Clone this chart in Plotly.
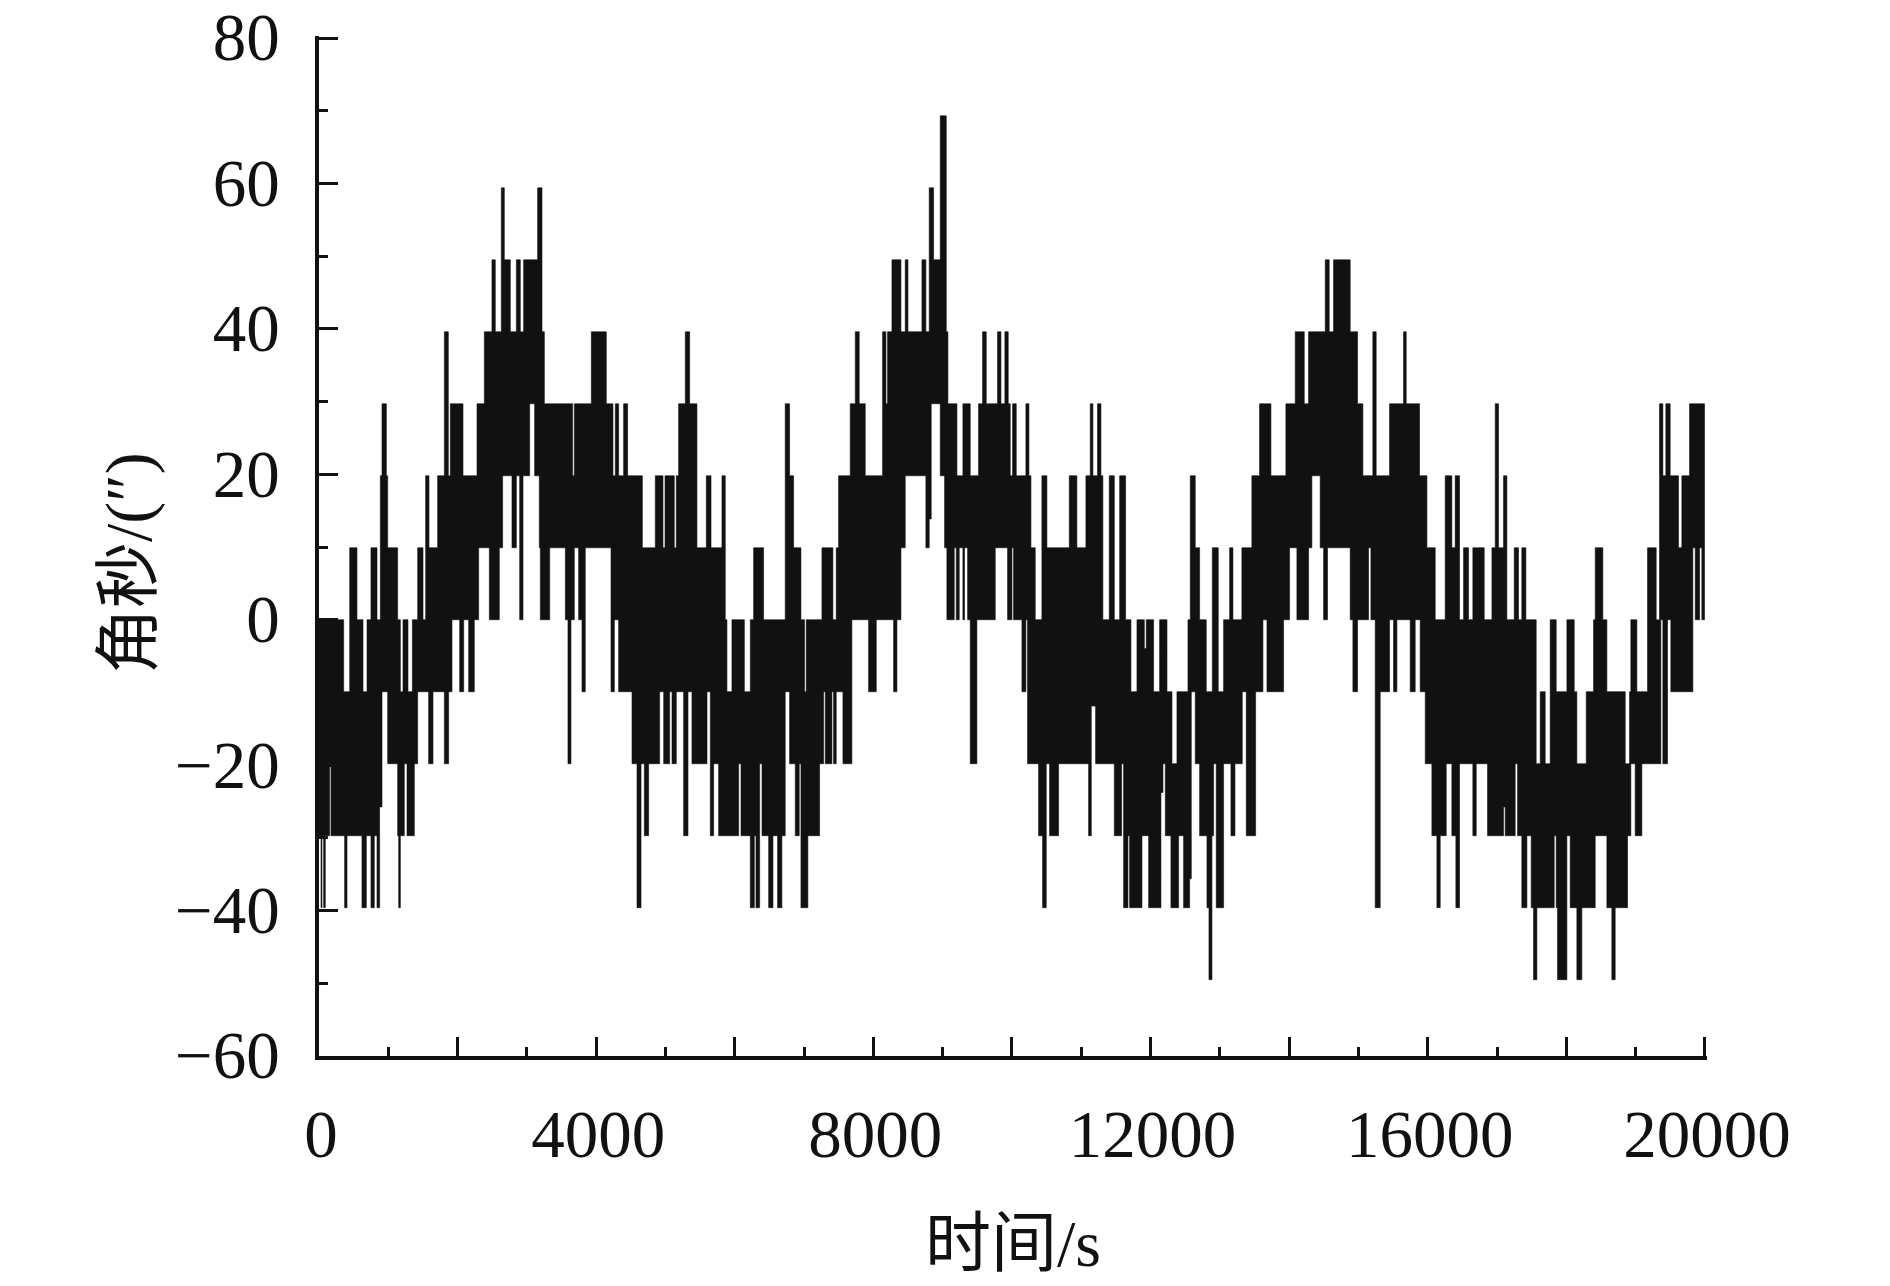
import plotly.graph_objects as go

# Angle readings are quantised in steps of about 9.9 arcsec; levels below are multiples of it.
ANGLE_STEP = 9.9

# Upper envelope of the dense trace: time (s) at which each run ends, and its level
upper_end = [356,443,548,635,693,750,837,885,909,972,991,1135,1174,1212,1284,1347,1424,1501,1539,1587,
 1712,1809,1866,1895,2078,2280,2386,2496,2544,2631,2674,2761,2848,2905,2953,3155,3218,3252,3660,3684,
 3930,4146,4242,4276,4324,4396,4454,4666,4853,4964,4993,5127,5156,5190,5286,5349,5454,5589,5657,5815,
 5863,5887,5959,6138,6224,6272,6416,6728,6791,6849,6955,7007,7031,7258,7416,7464,7498,7666,7739,7796,
 7883,8133,8181,8205,8268,8398,8460,8499,8701,8758,8806,8869,8965,9052,9076,9206,9292,9398,9518,9576,
 9629,9792,9841,9898,9946,9975,10009,10062,10201,10245,10274,10336,10432,10504,10827,10937,11067,11130,11168,11235,
 11284,11312,11404,11477,11554,11640,11717,11804,11910,11938,12044,12131,12237,12309,12381,12540,12573,12645,12708,12804,
 12891,12977,13054,13141,13189,13318,13462,13573,13737,13953,14088,14218,14280,14521,14578,14641,14881,14987,15064,15208,15256,15449,
 15651,15689,15882,15988,16108,16252,16348,16396,16459,16517,16589,16651,16815,16926,16974,17022,17094,17142,17248,17310,
 17358,17416,17565,17623,17695,17767,17854,18008,18114,18152,18287,18393,18417,18527,18585,18850,18912,18931,19018,19172,
 19297,19345,19393,19436,19499,19619,19667,19778,19994]
upper_level = [0,-1,1,0,-1,0,1,0,2,3,2,1,0,-1,0,-1,0,1,0,2,
 1,2,4,2,3,2,3,4,5,4,6,5,4,5,4,5,6,4,3,2,
 3,4,3,2,3,2,3,2,1,2,1,2,1,2,3,4,3,1,2,1,
 2,0,-1,0,-1,0,1,0,3,2,1,0,-1,0,1,0,1,2,3,4,
 3,2,4,3,4,5,4,5,4,5,4,6,5,7,4,3,2,3,2,3,
 4,3,4,3,4,3,2,3,2,3,2,1,0,2,1,2,1,2,3,2,
 3,2,0,2,0,2,0,-1,0,-0.4,0,-1,0,-1,-2,-1,0,2,1,0,
 -1,1,-1,0,1,0,1,2,3,2,3,4,3,4,5,4,5,4,3,2,4,2,
 3,4,3,2,1,0,2,1,2,0,1,0,1,0,1,3,1,2,0,1,
 0,1,0,-2,-1,-2,0,-1,0,-1,-2,-1,0,1,0,-1,-2,-1,0,-1,
 1,0,3,2,3,2,1,2,3]

# Lower envelope of the dense trace
lower_end = [29,43,67,91,154,173,370,404,620,683,750,798,837,875,909,991,1135,1150,1174,1231,
 1270,1376,1424,1582,1645,1809,1871,1919,2030,2088,2160,2241,2304,2458,2602,2650,2785,2848,2896,2944,
 2987,3040,3112,3179,3194,3329,3555,3593,3636,3684,3747,3795,3843,4214,4262,4324,4517,4589,4647,4695,
 4757,4916,4974,5060,5094,5156,5262,5325,5382,5599,5647,5695,5767,6056,6090,6224,6282,6306,6359,6393,
 6489,6551,6618,6680,6728,6791,6873,6930,6955,7055,7224,7282,7306,7402,7426,7464,7561,7690,7931,8042,
 8292,8340,8398,8460,8758,8806,8835,8965,9028,9061,9167,9196,9239,9292,9316,9360,9398,9494,9759,9937,
 10000,10023,10144,10201,10225,10384,10442,10495,10543,10673,11106,11145,11207,11477,11582,11611,11674,11698,11876,11972,
 12150,12179,12213,12294,12405,12477,12564,12588,12645,12708,12814,12843,12886,12910,12948,13054,13160,13218,13324,13381,
 13516,13622,13680,13920,14006,14112,14280,14328,14448,
 14497,14554,14881,14920,14987,15146,15180,15242,15314,15449,15507,15555,15747,15819,15891,15964,16060,16132,16180,16267,
 16348,16406,16459,16651,16700,16863,17094,17118,17262,17296,17358,17431,17493,17527,17575,17825,17854,17873,18008,18056,
 18152,18224,18417,18585,18657,18705,18883,18931,18994,19090,19364,19393,19460,19508,19826,19860,19923,19956,19994]
lower_level = [-3,-4,-3,-4,-3,-2,-3,-4,-3,-4,-3,-4,-3,-4,-2.6,-1,-2,-3,-4,-3,
 -2,-3,-2,-1,-2,-1,-2,-1,0,-1,0,-1,0,1,0,1,2,1,2,0,
 2,2,3,2,1,0,1,0,-2,0,1,0,-1,1,-1,0,-1,-2,-4,-2,
 -3,-2,-1,-2,-1,-2,-1,-3,-1,-2,-1,-3,-2,-3,-2,-3,-4,-3,-4,-2,
 -3,-4,-3,-4,-3,-1,-2,-3,-2,-4,-3,-2,-1,-2,-1,-2,-1,-2,0,-1,
 0,-1,0,1,2,1,1.4,3,2,1,0,1,0,1,0,1,0,-2,0,1,
 0,1,0,-1,0,-2,-3,-4,-2,-3,-2,-3,-1.2,-2,-3,-2,-4,-3,-4,-3,
 -4,-2.4,-2,-3,-4,-3,-4,-3.6,-1,-2,-3,-4,-5,-3,-2,-4,-2,-3,-2,-1,
 -3,-1,0,-1,0,1,0,1,2,
 1,0,1,0,-1,0,1,0,-4,-1,0,-1,0,-1,0,-1,-2,-3,-4,-3,
 -2,-3,-4,-2,-3,-2,-3,-2.6,-3,-2,-3,-4,-3,-4,-5,-4,-3,-4,-5,-3,
 -4,-5,-4,-3,-4,-5,-4,-3,-2,-3,-2,0,-2,0,-1,1,0,1,0]

x_major = [0,2000,4000,6000,8000,10000,12000,14000,16000,18000,20000]
x_tick_text = ["0","","4000","","8000","","12000","","16000","","20000"]
y_major = [-60,-40,-20,0,20,40,60,80]
y_tick_text = ["−60","−40","−20","0","20","40","60","80"]

INK = "#111111"
SERIF = "Liberation Serif, Noto Sans CJK SC, serif"


def steps(ends, levels):
    xs, ys, start = [], [], 0
    for end, level in zip(ends, levels):
        xs += [start, end]
        ys += [level * ANGLE_STEP, level * ANGLE_STEP]
        start = end
    return xs, ys


assert len(upper_end) == len(upper_level) and len(lower_end) == len(lower_level), (len(upper_end), len(upper_level), len(lower_end), len(lower_level))
ux, uy = steps(upper_end, upper_level)
lx, ly = steps(lower_end, lower_level)

fig = go.Figure(go.Scatter(
    x=ux + lx[::-1], y=uy + ly[::-1], mode="lines", fill="toself",
    fillcolor=INK, line=dict(color=INK, width=0.6), hoverinfo="skip", showlegend=False))

axis = dict(showgrid=False, zeroline=False, showline=True, linecolor=INK, linewidth=3.5,
            ticks="inside", tickcolor=INK, tickwidth=3, ticklen=19, tickmode="array",
            ticklabeloverflow="allow", automargin=False,
            tickfont=dict(family=SERIF, size=67, color=INK),
            minor=dict(ticks="inside", ticklen=9, tickwidth=3, tickcolor=INK, showgrid=False))
fig.update_layout(
    width=1890, height=1286, autosize=False,
    margin=dict(l=311, r=191, t=28, b=238),
    paper_bgcolor="white", plot_bgcolor="white",
    # Ranges reach just past the last ticks so that the end ticks are still drawn.
    xaxis=dict(axis, range=[0, 20030], tickvals=x_major, ticktext=x_tick_text,
               minor=dict(axis["minor"], dtick=1000, tick0=0),
               ticklabelstandoff=17, ticklabelshift=2,
               title=dict(text="时间/s", standoff=51, font=dict(family=SERIF, size=66, color=INK))),
    yaxis=dict(axis, range=[-60, 80.28], tickvals=y_major, ticktext=y_tick_text,
               minor=dict(axis["minor"], dtick=10, tick0=0),
               ticklabelstandoff=22, ticklabelshift=-1),
    annotations=[dict(text="角秒/(″)", xref="paper", yref="paper", x=-0.1364, y=0.483,
                      xanchor="center", yanchor="middle", textangle=-90, showarrow=False,
                      font=dict(family=SERIF, size=66, color=INK))],
)
fig.write_html("out.html")
